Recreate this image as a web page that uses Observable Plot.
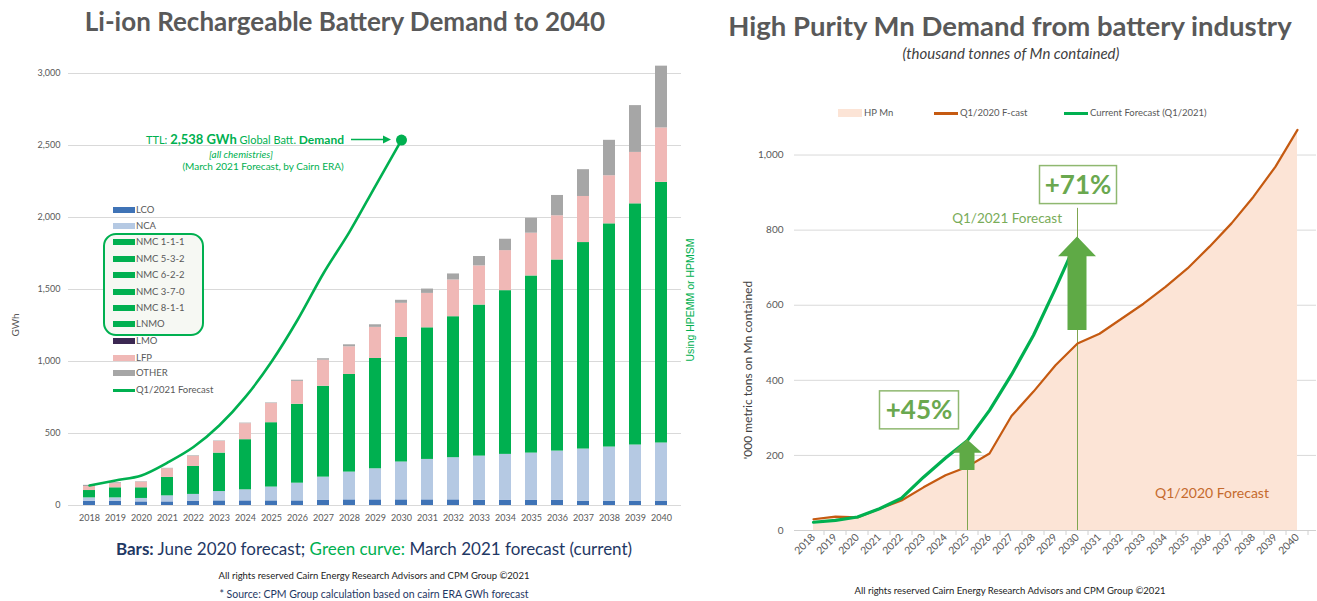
<!DOCTYPE html>
<html><head><meta charset="utf-8">
<script src="https://cdn.jsdelivr.net/npm/d3@7"></script>
<script src="https://cdn.jsdelivr.net/npm/@observablehq/plot@0.6"></script>
<style>
body{margin:0;background:#fff;font-family:Lato,"Open Sans",sans-serif;}
#root{position:relative;width:1317px;height:601px;overflow:hidden;background:#fff;}
#root svg{position:absolute;top:0;overflow:visible;}
.abs{position:absolute;white-space:nowrap;line-height:1;}
</style></head><body><div id="root"></div>
<script>
// ---------------- LEFT CHART DATA (GWh) ----------------
const years = [2018,2019,2020,2021,2022,2023,2024,2025,2026,2027,2028,2029,2030,2031,2032,2033,2034,2035,2036,2037,2038,2039,2040];
const lco   = [30,30,25,25,28,32,32,32,32,35,39,39,39,39,39,37,35,35,35,30,30,30,28];
const nca   = [23,23,24,42,49,65,77,96,123,162,193,216,263,281,293,306,320,329,343,362,376,390,406];
const nmc   = [51,70,74,128,194,267,348,447,548,631,678,766,865,914,979,1049,1137,1230,1327,1434,1550,1675,1810];
const lmo   = [0,0,0,0,0,0,0,0,0,0,0,0,0,0,0,0,0,0,0,0,0,0,0];
const lfp   = [28,28,39,60,70,81,111,133,159,181,192,216,237,239,255,272,278,297,307,320,334,357,378];
const other = [8,7,3,3,4,3,4,4,8,10,14,18,21,30,42,65,79,104,141,186,246,325,429];
const chemKeys = ["LCO","NCA","NMC / LNMO","LMO","LFP","OTHER"];
const chemColors = ["#3f73b6","#b5c9e3","#00b050","#3b2852","#f0b8b6","#a6a6a6"];
const forecastYears = [2018,2019,2020,2021,2022,2023,2024,2025,2026,2027,2028,2029,2030];
const forecastQ12021 = [139,174,209,298,406,557,754,998,1288,1613,1900,2220,2538];
const leftYTicks = [0,500,1000,1500,2000,2500,3000];
const legendLabels = ["LCO","NCA","NMC 1-1-1","NMC 5-3-2","NMC 6-2-2","NMC 3-7-0","NMC 8-1-1","LNMO","LMO","LFP","OTHER","Q1/2021 Forecast"];
const legendKeys   = ["LCO","NCA","NMC / LNMO","NMC / LNMO","NMC / LNMO","NMC / LNMO","NMC / LNMO","NMC / LNMO","LMO","LFP","OTHER","line"];

// ---------------- RIGHT CHART DATA ('000 t Mn) ----------------
const mnYears = years;
const q12020Fcast = [30,37,35,58,80,115,147,170,205,305,370,440,498,524,564,604,649,698,756,818,889,969,1067];
const currentYears = forecastYears;
const currentQ12021 = [22,27,36,58,86,142,193,240,320,415,520,645,775];
const rightYTicks = [0,200,400,600,800,1000];
const calloutYears = [2025,2030];
const calloutLabels = ["+45%","+71%"];
const calloutFrom = [160,533];
const calloutNeck = [206,729];
const calloutTip = [242,782];
const calloutBox = [320,920];
const calloutRuleTop = [206,858];

const root = document.getElementById("root");
const fmt = d3.format(",");

// ---------- LEFT PLOT ----------
const series = [lco,nca,nmc,lmo,lfp,other];
const barData = [];
series.forEach((vals,k)=>vals.forEach((v,i)=>barData.push({year:years[i], chem:chemKeys[k], gwh:v})));
const lineData = forecastYears.map((y,i)=>({year:y, gwh:forecastQ12021[i]}));

const left = Plot.plot({
  width: 700, height: 530,
  marginTop: 73, marginBottom: 25, marginLeft: 68, marginRight: 19,
  style: {fontFamily:"Lato, sans-serif", fontSize:"9px", color:"#595959", background:"transparent"},
  x: {type:"band", domain: years, paddingInner: 0.55, paddingOuter: 0.26, label: null},
  y: {domain:[0,3000], label: null},
  color: {domain: chemKeys, range: chemColors},
  marks: [
    Plot.gridY(leftYTicks, {stroke:"#d9d9d9", strokeOpacity:1, strokeWidth:1}),
    Plot.barY(barData, {x:"year", y:"gwh", fill:"chem"}),
    Plot.lineY(lineData, {x:"year", y:"gwh", stroke:"#00b050", strokeWidth:2.6, curve:"monotone-x"}),
    Plot.dot(lineData.slice(-1), {x:"year", y:"gwh", r:5.5, fill:"#00b050"}),
    Plot.axisY(leftYTicks, {tickSize:0, tickPadding:8, tickFormat: fmt, fontSize:9, fill:"#595959"}),
    Plot.axisX({tickSize:0, tickPadding:9, tickFormat: d=>String(d), fontSize:9, fill:"#595959"})
  ]
});
left.style.left = "0px";
root.appendChild(left);

// annotation on left chart (positioned through the plot's scales)
{
  const xs = left.scale("x"), ys = left.scale("y");
  const bw = typeof xs.bandwidth === "function" ? xs.bandwidth() : xs.bandwidth;
  const px = xs.apply(2030) + bw/2, py = ys.apply(forecastQ12021[forecastQ12021.length-1]);
  const g = d3.select(left).append("g").attr("fill","#00b050").attr("font-family","Lato, sans-serif");
  g.append("line").attr("x1",px-50).attr("x2",px-16).attr("y1",py).attr("y2",py).attr("stroke","#00b050").attr("stroke-width",1.6);
  g.append("path").attr("d",`M${px-10},${py} l-8,-4 l0,8 z`);
  const t1 = g.append("text").attr("x",px-57).attr("y",py+4).attr("text-anchor","end").attr("font-size",11);
  t1.append("tspan").text("TTL: ");
  t1.append("tspan").attr("font-weight",700).attr("font-size",13).text("2,538 GWh");
  t1.append("tspan").text(" Global Batt. ");
  t1.append("tspan").attr("font-weight",700).attr("font-size",12).text("Demand");
  g.append("text").attr("x",px-160).attr("y",py+18).attr("text-anchor","middle").attr("font-size",10).attr("font-style","italic").text("[all chemistries]");
  g.append("text").attr("x",px-138).attr("y",py+30).attr("text-anchor","middle").attr("font-size",10).text("(March 2021 Forecast, by Cairn ERA)");
}

// ---------- RIGHT PLOT ----------
const mnData = mnYears.map((y,i)=>({year:y, v:q12020Fcast[i]}));
const curData = currentYears.map((y,i)=>({year:y, v:currentQ12021[i]}));
const callouts = calloutYears.map((y,i)=>({year:y, top:calloutRuleTop[i]}));

const right = Plot.plot({
  width: 623, height: 601,
  marginTop: 117, marginBottom: 71, marginLeft: 94, marginRight: 7,
  style: {fontFamily:"Lato, sans-serif", fontSize:"10px", color:"#595959", background:"transparent"},
  x: {type:"band", domain: mnYears, padding: 0, label: null},
  y: {domain:[0,1100], label: null},
  marks: [
    Plot.gridY(rightYTicks.slice(1), {stroke:"#d9d9d9", strokeOpacity:1}),
    Plot.areaY(mnData, {x:"year", y:"v", fill:"#fce4d6"}),
    Plot.ruleY([0], {stroke:"#d0d0d0"}),
    Plot.ruleX(callouts, {x:"year", y1:0, y2:"top", stroke:"#7fa650", strokeWidth:1}),
    Plot.lineY(mnData, {x:"year", y:"v", stroke:"#c55a11", strokeWidth:2.2}),
    Plot.lineY(curData, {x:"year", y:"v", stroke:"#00b050", strokeWidth:3.2}),
    Plot.axisY(rightYTicks, {tickSize:0, tickPadding:11, tickFormat: fmt, fontSize:10, fill:"#595959"}),
    Plot.axisX({tickSize:0, tickPadding:5, tickRotate:-45, tickFormat: d=>String(d), fontSize:10.5, fill:"#595959"})
  ]
});
right.style.left = "700px";
root.appendChild(right);

{
  const xs = right.scale("x"), ys = right.scale("y");
  const bw = typeof xs.bandwidth === "function" ? xs.bandwidth() : xs.bandwidth;
  const cx = y => xs.apply(y) + bw/2;
  const g = d3.select(right).append("g").attr("font-family","Lato, sans-serif");
  // category boundary tick marks below the axis
  const y0 = ys.apply(0);
  mnYears.forEach(yr=>{
    const x = xs.apply(yr) + bw;
    g.append("line").attr("x1",x).attr("x2",x).attr("y1",y0).attr("y2",y0+5).attr("stroke","#d0d0d0");
  });
  const shaftW = [15,19], headW = [30,38], boxDx = [-48,1], boxW = [79,77];
  calloutYears.forEach((yr,i)=>{
    const x = cx(yr), yb = ys.apply(calloutFrom[i]), yn = ys.apply(calloutNeck[i]), yt = ys.apply(calloutTip[i]);
    const s = shaftW[i]/2, h = headW[i]/2;
    g.append("path").attr("fill","#5faa46")
      .attr("d",`M${x-s},${yb} L${x-s},${yn} L${x-h},${yn} L${x},${yt} L${x+h},${yn} L${x+s},${yn} L${x+s},${yb} Z`);
    const bx = x + boxDx[i], by = ys.apply(calloutBox[i]);
    g.append("rect").attr("x",bx-boxW[i]/2).attr("y",by-19).attr("width",boxW[i]).attr("height",38)
      .attr("fill","#fff").attr("stroke","#8fb870").attr("stroke-width",1.5);
    g.append("text").attr("x",bx).attr("y",by+9).attr("text-anchor","middle").attr("font-size",26).attr("font-weight",700)
      .attr("fill","#6aa84f").text(calloutLabels[i]);
  });
  g.append("text").attr("x",cx(2030)-15).attr("y",ys.apply(830)+5).attr("text-anchor","end").attr("font-size",13.5).attr("fill","#79ac59").text("Q1/2021 Forecast");
  g.append("text").attr("x",cx(2040)-85).attr("y",ys.apply(99)+5).attr("text-anchor","middle").attr("font-size",14).attr("fill","#c56a2d").text("Q1/2020 Forecast");
}

// ---------- HTML TEXT ----------
function place(html, o){
  const d = document.createElement("div");
  d.className = "abs";
  d.innerHTML = html;
  Object.assign(d.style, {
    left: o.x+"px", top: o.y+"px", fontSize: o.size+"px", fontWeight: o.weight||400,
    fontStyle: o.italic ? "italic" : "normal", color: o.color||"#595959",
    fontFamily: o.font || "Lato, sans-serif",
    transform: `translate(${o.ax===undefined?-50:o.ax}%, -50%)` + (o.rotate ? ` rotate(${o.rotate}deg)` : "")
  });
  root.appendChild(d);
  return d;
}
place("Li-ion Rechargeable Battery Demand to 2040", {x:345, y:21, size:26, weight:700, color:"#595959"});
place("High Purity Mn Demand from battery industry", {x:1010, y:26, size:27.5, weight:700, color:"#595959"});
place("(thousand tonnes of Mn contained)", {x:1011, y:53, size:15, italic:true, color:"#404040"});
place("GWh", {x:15, y:325, size:10, rotate:-90});
place("Using HPEMM or HPMSM", {x:690, y:300, size:10.5, rotate:-90, color:"#00b050", font:"'Liberation Sans', Arial, sans-serif"});
place("'000 metric tons on Mn contained", {x:748, y:370, size:12, rotate:-90, color:"#404040"});
place('<b style="color:#1f3864">Bars:</b> <span style="color:#1f3864">June 2020 forecast;</span> <span style="color:#00b050">Green curve:</span> <span style="color:#1f3864">March 2021 forecast (current)</span>', {x:374, y:548, size:17});
place("All rights reserved Cairn Energy Research Advisors and CPM Group ©2021", {x:374, y:576, size:9.5, color:"#222"});
place("* Source: CPM Group calculation based on cairn ERA GWh forecast", {x:374, y:594, size:10.5, color:"#1f3864"});
place("All rights reserved Cairn Energy Research Advisors and CPM Group ©2021", {x:1010, y:591, size:9.5, color:"#222"});

// left legend
{
  const box = document.createElement("div");
  box.className = "abs";
  Object.assign(box.style,{left:"103px", top:"233px", width:"97px", height:"99px", border:"2.5px solid #00b050", borderRadius:"13px", background:"#f6f8f3"});
  root.appendChild(box);
  const rowY = [210,226,242,259,275,292,308,324,341,358,373,390];
  legendLabels.forEach((lab,i)=>{
    const key = legendKeys[i];
    const sw = document.createElement("div");
    sw.className = "abs";
    const isLine = key === "line";
    Object.assign(sw.style,{left:"113px", top:(rowY[i]-(isLine?1.5:3))+"px", width:"22px", height:(isLine?3:6)+"px",
      background: isLine ? "#00b050" : chemColors[chemKeys.indexOf(key)]});
    root.appendChild(sw);
    place(lab, {x:136, y:rowY[i], size:9.5, ax:0, color:"#595959"});
  });
}
// right legend
{
  const items = [["HP Mn","area","#fce4d6"],["Q1/2020 F-cast","line","#c55a11"],["Current Forecast (Q1/2021)","line","#00b050"]];
  const sx = [838, 934, 1064];
  items.forEach((it,i)=>{
    const sw = document.createElement("div");
    sw.className = "abs";
    const isLine = it[1]==="line";
    Object.assign(sw.style,{left:sx[i]+"px", top:(113-(isLine?1.5:4))+"px", width:"24px", height:(isLine?3:8)+"px", background:it[2]});
    root.appendChild(sw);
    place(it[0], {x:sx[i]+26, y:113, size:9.5, ax:0, color:"#595959"});
  });
}
</script></body></html>
